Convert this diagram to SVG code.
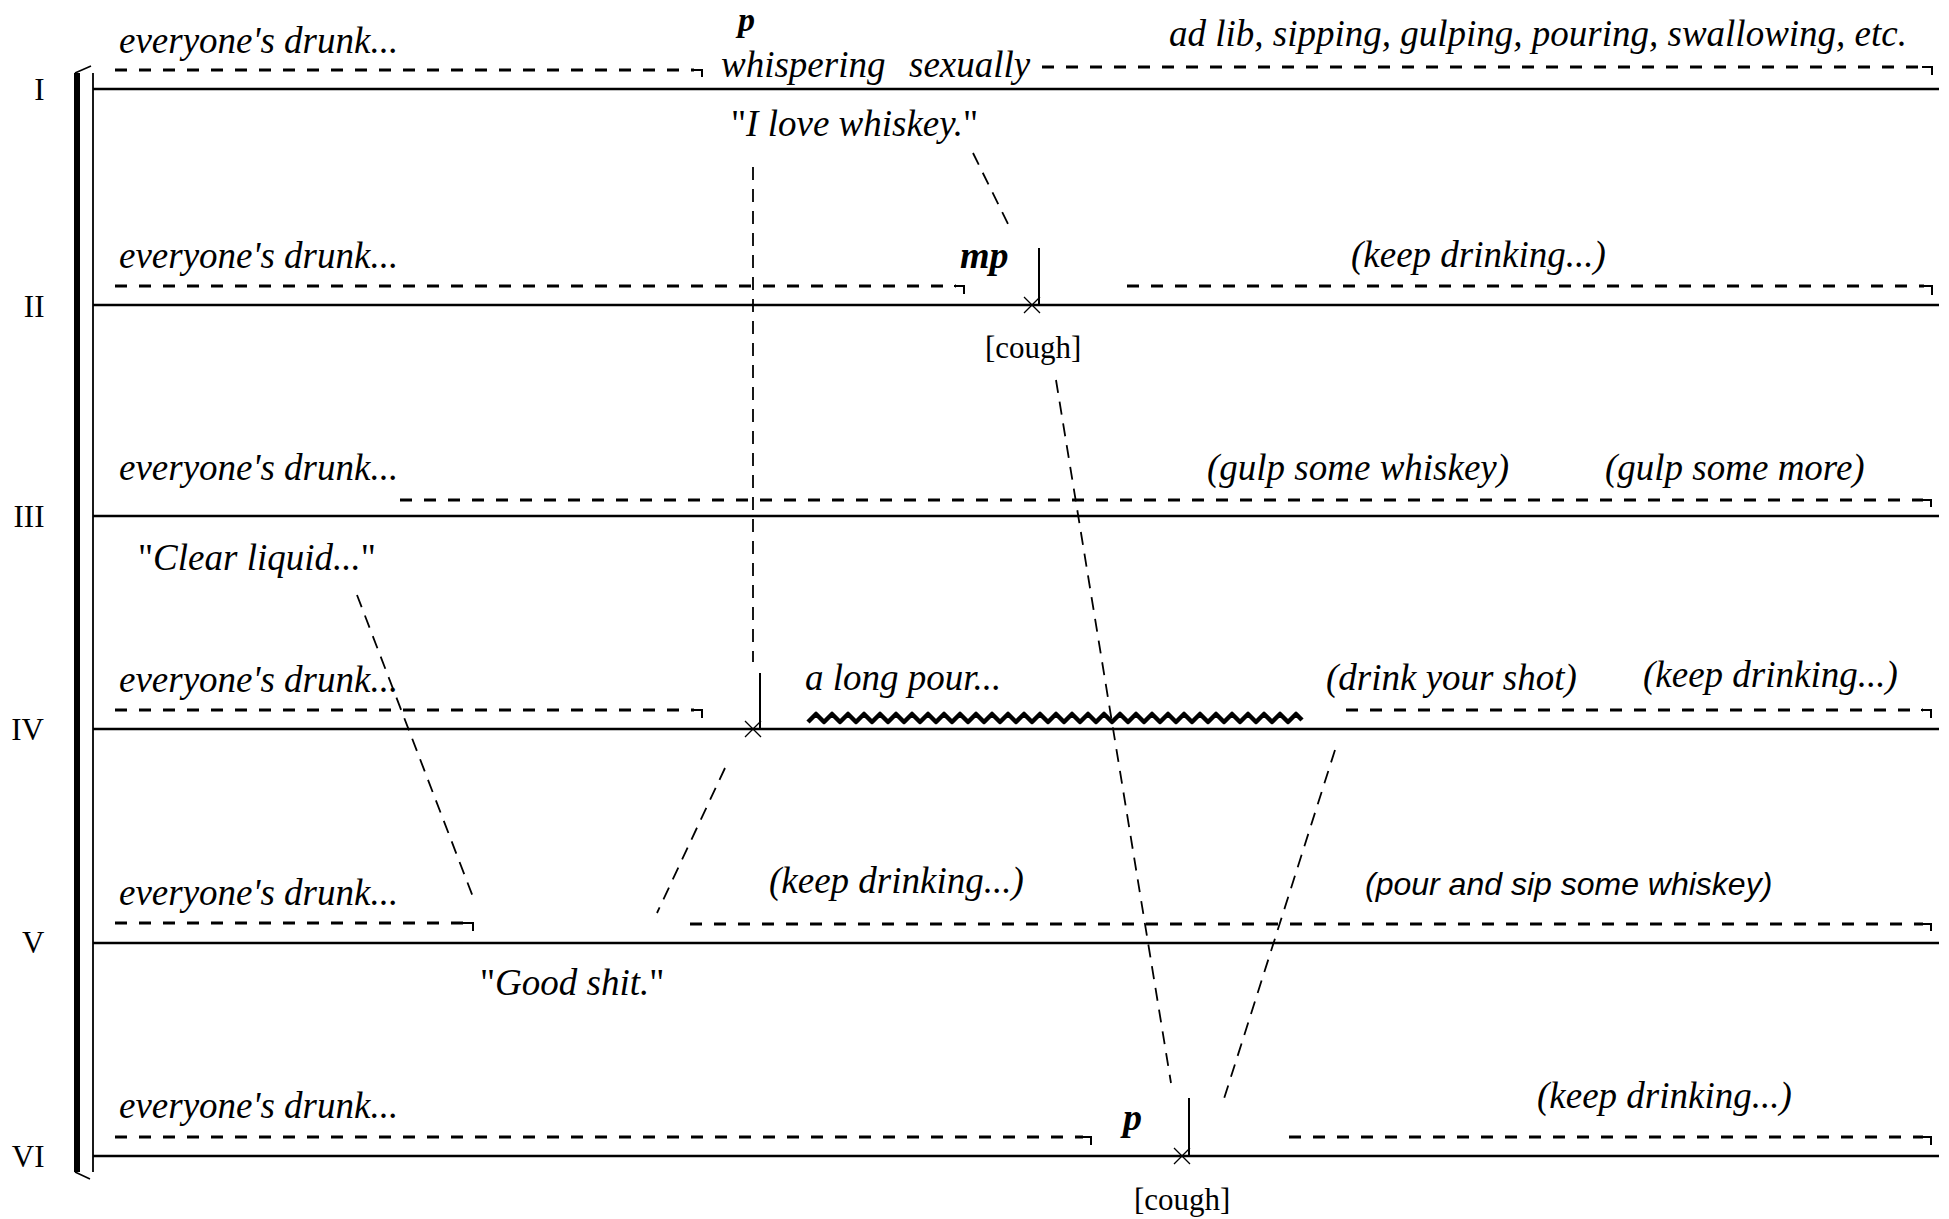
<svg xmlns="http://www.w3.org/2000/svg" width="1949" height="1219" viewBox="0 0 1949 1219">
<style>
.staff{stroke:#000;stroke-width:2.3;fill:none}
.dash{stroke:#000;stroke-width:2.8;stroke-dasharray:12 12;fill:none}
.hook{stroke:#000;stroke-width:2;fill:none}
.conn{stroke:#000;stroke-width:1.8;stroke-dasharray:13 9;fill:none}
.solid{stroke:#000;stroke-width:2;fill:none}
.xm{stroke:#000;stroke-width:1.3;fill:none}
.wave{stroke:#000;stroke-width:4.5;fill:none;stroke-linejoin:round}
text{fill:#000;font-family:"Liberation Serif","Times New Roman",serif}
.it{font-style:italic;font-size:37px}
.up{font-size:31px}
.num{font-size:31px;text-anchor:end}
.dyn{font-style:italic;font-weight:bold;font-size:38px}
.sans{font-family:"Liberation Sans",Arial,sans-serif;font-style:italic;font-size:32px}
.q{font-style:normal}
</style>
<rect width="1949" height="1219" fill="#fff"/>
<g id="system">
<path d="M77 73 V1172" stroke="#000" stroke-width="6" fill="none"/>
<path d="M75 73 L91 66 M75 1172 L90 1179" stroke="#000" stroke-width="1.6" fill="none"/>
<path d="M93 73 V1172" stroke="#000" stroke-width="1.8" fill="none"/>
<path class="staff" d="M93 89 H1939 M93 305 H1939 M93 516 H1939 M93 729 H1939 M93 943 H1939 M93 1156 H1939"/>
<text class="num" x="44.5" y="100">I</text>
<text class="num" x="44.5" y="317">II</text>
<text class="num" x="44.5" y="527">III</text>
<text class="num" x="44" y="740">IV</text>
<text class="num" x="44.5" y="953">V</text>
<text class="num" x="44.5" y="1167">VI</text>
</g>
<g id="staff1">
<text class="it" x="119" y="53">everyone's drunk...</text>
<path class="dash" d="M115 70 H694"/>
<path class="hook" d="M692 70 H702 V77"/>
<text class="dyn" x="738" y="31" style="font-size:34px">p</text>
<text class="it" x="721" y="77">whispering</text>
<text class="it" x="909" y="77">sexually</text>
<path class="dash" d="M1042 67 H1924"/>
<path class="hook" d="M1922 67 H1932 V75"/>
<text class="it" x="1169" y="46">ad lib, sipping, gulping, pouring, swallowing, etc.</text>
<text class="it" x="731" y="136"><tspan class="q">"</tspan>I love whiskey.<tspan class="q">"</tspan></text>
</g>
<g id="staff2">
<text class="it" x="119" y="268">everyone's drunk...</text>
<path class="dash" d="M115 286 H956"/>
<path class="hook" d="M954 286 H964 V294"/>
<text class="dyn" x="960" y="268">mp</text>
<path class="solid" d="M1039 248 V305"/>
<path class="xm" d="M1024 297 L1040 313 M1024 313 L1040 297"/>
<text class="up" x="985" y="358">[cough]</text>
<path class="dash" d="M1127 286 H1924"/>
<path class="hook" d="M1922 286 H1932 V295"/>
<text class="it" x="1351" y="267">(keep drinking...)</text>
</g>
<g id="staff3">
<text class="it" x="119" y="480">everyone's drunk...</text>
<path class="dash" d="M400 500 H1923"/>
<path class="hook" d="M1921 500 H1931 V507"/>
<text class="it" x="1207" y="480">(gulp some whiskey)</text>
<text class="it" x="1605" y="480">(gulp some more)</text>
<text class="it" x="138" y="570"><tspan class="q">"</tspan>Clear liquid...<tspan class="q">"</tspan></text>
</g>
<g id="staff4">
<text class="it" x="119" y="692">everyone's drunk...</text>
<path class="dash" d="M115 710 H694"/>
<path class="hook" d="M692 710 H702 V718"/>
<path class="solid" d="M760 673 V729"/>
<path class="xm" d="M745 721 L761 737 M745 737 L761 721"/>
<text class="it" x="805" y="690">a long pour...</text>
<polyline class="wave" points="808,722 816,714 824,722 832,714 840,722 848,714 856,722 864,714 872,722 880,714 888,722 896,714 904,722 912,714 920,722 928,714 936,722 944,714 952,722 960,714 968,722 976,714 984,722 992,714 1000,722 1008,714 1016,722 1024,714 1032,722 1040,714 1048,722 1056,714 1064,722 1072,714 1080,722 1088,714 1096,722 1104,714 1112,722 1120,714 1128,722 1136,714 1144,722 1152,714 1160,722 1168,714 1176,722 1184,714 1192,722 1200,714 1208,722 1216,714 1224,722 1232,714 1240,722 1248,714 1256,722 1264,714 1272,722 1280,714 1288,722 1296,714 1302,720"/>
<text class="it" x="1326" y="690">(drink your shot)</text>
<text class="it" x="1643" y="687">(keep drinking...)</text>
<path class="dash" d="M1346 710 H1923"/>
<path class="hook" d="M1921 710 H1931 V718"/>
</g>
<g id="staff5">
<text class="it" x="119" y="905">everyone's drunk...</text>
<path class="dash" d="M115 923 H465"/>
<path class="hook" d="M463 923 H473 V931"/>
<text class="it" x="769" y="893">(keep drinking...)</text>
<path class="dash" d="M690 924 H1923"/>
<path class="hook" d="M1921 924 H1931 V931"/>
<text class="sans" x="1365" y="895">(pour and sip some whiskey)</text>
<text class="it" x="480" y="995"><tspan class="q">"</tspan>Good shit.<tspan class="q">"</tspan></text>
</g>
<g id="staff6">
<text class="it" x="119" y="1118">everyone's drunk...</text>
<path class="dash" d="M115 1137 H1083"/>
<path class="hook" d="M1081 1137 H1091 V1145"/>
<text class="dyn" x="1123" y="1130">p</text>
<path class="solid" d="M1189 1098 V1156"/>
<path class="xm" d="M1174 1148 L1190 1164 M1174 1164 L1190 1148"/>
<path class="dash" d="M1289 1137 H1923"/>
<path class="hook" d="M1921 1137 H1931 V1145"/>
<text class="it" x="1537" y="1108">(keep drinking...)</text>
<text class="up" x="1134" y="1210">[cough]</text>
</g>
<g id="connectors">
<path class="conn" d="M753 167 V662"/>
<path class="conn" d="M973 153 L1011 230"/>
<path class="conn" d="M1056 380 L1171 1083"/>
<path class="conn" d="M357 595 L473 897"/>
<path class="conn" d="M725 768 L657 913"/>
<path class="conn" d="M1335 750 L1222 1105"/>
</g>
</svg>
